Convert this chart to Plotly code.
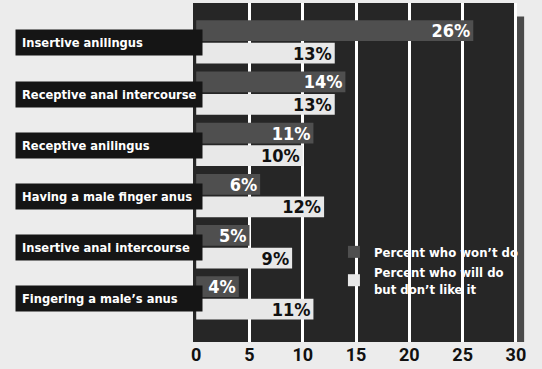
import plotly.graph_objects as go

# Survey answers per activity
activities = [
    "Insertive anilingus",
    "Receptive anal intercourse",
    "Receptive anilingus",
    "Having a male finger anus",
    "Insertive anal intercourse",
    "Fingering a male\u2019s anus",
]
wont_do = [26, 14, 11, 6, 5, 4]
will_do_dislike = [13, 13, 10, 12, 9, 11]
x_ticks = [0, 5, 10, 15, 20, 25, 30]

COND_FONT = "DejaVu Sans Condensed, DejaVu Sans, sans-serif"
PLOT_BG = "#262626"

ypos = list(range(len(activities)))

fig = go.Figure()
fig.add_trace(go.Bar(
    y=ypos, x=wont_do, orientation="h",
    name="Percent who won\u2019t do",
    marker=dict(color="#4f4f4f", line=dict(width=0)),
    text=[f"{v}%" for v in wont_do],
    textposition="inside", insidetextanchor="end", constraintext="none",
    textfont=dict(family=COND_FONT, size=18, color="white", weight="bold"),
))
fig.add_trace(go.Bar(
    y=ypos, x=will_do_dislike, orientation="h",
    name="Percent who will do<br>but don\u2019t like it",
    marker=dict(color="#e8e8e8", line=dict(width=0)),
    text=[f"{v}%" for v in will_do_dislike],
    textposition="inside", insidetextanchor="end", constraintext="none",
    textfont=dict(family=COND_FONT, size=18, color="#111111", weight="bold"),
))

# Category name boxes on the left
for i, name in enumerate(activities):
    fig.add_annotation(
        xref="paper", yref="y", x=-0.549, y=i + 0.02,
        xanchor="left", yanchor="middle",
        text="\u00a0" + name, showarrow=False, align="left",
        width=182, height=21, borderpad=2,
        bgcolor="#151515",
        font=dict(family=COND_FONT, size=12.8, color="white", weight="bold"),
    )

# Drop shadow on the right edge of the panel
fig.add_shape(type="rect", xref="paper", yref="paper",
              x0=1.0, x1=1.022, y0=0.0, y1=0.96,
              fillcolor="#4a4a4a", line=dict(width=0), layer="below")

fig.update_layout(
    width=542, height=369,
    margin=dict(l=193, r=25, t=3, b=27, autoexpand=False),
    paper_bgcolor="#ececec",
    plot_bgcolor=PLOT_BG,
    barmode="group", bargap=0.12, bargroupgap=0.08,
    showlegend=True,
    legend=dict(
        x=0.435, y=0.31, xanchor="left", yanchor="top",
        bgcolor="rgba(0,0,0,0)", itemwidth=30, tracegroupgap=4,
        font=dict(family=COND_FONT, size=13, color="white", weight="bold"),
    ),
    xaxis=dict(
        range=[-0.3, 30.1], tickvals=x_ticks,
        showgrid=True, gridcolor="white", gridwidth=3,
        zeroline=True, zerolinecolor=PLOT_BG, zerolinewidth=4,
        showline=False, ticks="",
        tickfont=dict(family="Roboto, Liberation Sans, sans-serif", size=18,
                      color="#111111", weight="bold"),
    ),
    yaxis=dict(
        range=[5.86, -0.76], showticklabels=False,
        showgrid=False, zeroline=False, showline=False, ticks="",
    ),
)

fig.write_html("out.html")
